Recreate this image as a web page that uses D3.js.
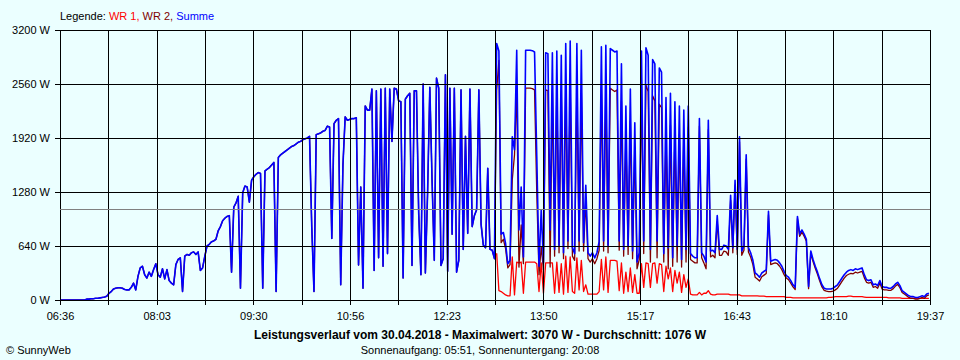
<!DOCTYPE html>
<html>
<head>
<meta charset="UTF-8">
<title>Leistungsverlauf 30.04.2018</title>
<script src="https://cdnjs.cloudflare.com/ajax/libs/d3/7.8.5/d3.min.js"></script>
<style>
body{margin:0;background:#ebffff;}
svg{display:block;}
text{font-family:"Liberation Sans",Arial,sans-serif;font-size:11px;fill:#000;}
.title{font-weight:bold;font-size:12px;}
.series{fill:none;stroke-width:1.3;stroke-linejoin:round;}
.series.sum{stroke-width:1.6;}
.grid line{stroke:#000;shape-rendering:crispEdges;}
.axis line{stroke:#000;shape-rendering:crispEdges;}
.grid path,.axis path{display:none;}
</style>
</head>
<body>
<div id="chart"></div>
<script>
// time frame of the day, samples every 2 minutes
var startTime="06:36", endTime="19:37", step=2;
var wr1Start="13:08"; // WR 1 only reports from here on
var yTicks=[0,640,1280,1920,2560,3200];
var xTickLabels=["06:36","08:03","09:30","10:56","12:23","13:50","15:17","16:43","18:10","19:37"];
var legendNames=["WR 1","WR 2","Summe"];
var average=1076;

// WR 2 (W), from 06:36
var wr2=[0,0,0,0,0,0,0,0,0,0,0,0,
10,10,15,15,20,20,25,30,35,45,
80,100,130,140,145,145,140,125,120,120,
150,200,120,280,380,400,300,260,330,280,
360,430,300,270,370,250,360,230,200,180,
420,480,500,100,520,540,530,560,570,540,
570,350,380,520,640,660,690,700,720,820,
870,940,970,990,1000,330,1100,1150,1230,140,
1270,1350,1340,1160,1420,1460,1490,1510,1500,140,
1530,1550,1570,1600,1630,100,1690,1720,1740,1760,
1780,1800,1820,1830,1850,1870,1880,1900,1910,1920,
1940,870,100,1960,1970,1980,2000,2010,2060,2050,
730,2090,2130,2150,180,1600,2170,2130,2140,2150,
2150,2160,415,1340,140,2300,2250,2250,2500,350,
2480,500,2500,400,2510,550,2500,1880,2510,2500,
2360,2350,260,2380,2420,2450,410,2480,2480,1030,
300,2560,320,1280,2520,1420,470,2630,2510,410,
490,2670,340,2510,780,2510,330,470,2490,600,
1940,790,2500,870,1000,1070,2490,900,650,620,
1560,600,590,490,
2485,2840,680,720,610,380,420,1425,1720,2510,
390,890,430,2510,2510,2510,2505,2490,1270,300,
630,360,2490,2480,390,2490,520,2500,560,2470,
490,2520,610,2560,520,470,2540,580,2490,580,
1180,490,450,490,430,490,590,2520,580,2510,
560,2510,2490,2470,2490,590,2360,520,1970,540,
2120,490,1800,370,480,2520,550,2550,2470,450,
2420,2360,500,2320,2280,450,2000,370,2070,400,
2000,450,1970,390,1950,450,2050,480,460,440,
440,2060,500,440,370,2020,510,530,500,930,
530,530,580,570,530,1180,560,1360,540,1875,
530,590,1670,570,510,420,270,250,225,275,
295,315,1010,420,430,440,430,400,360,300,
260,240,200,155,125,965,755,805,755,695,
135,555,455,375,305,225,155,115,105,100,
100,105,120,140,180,220,260,290,305,315,
310,330,320,330,340,265,210,200,210,150,
160,140,200,130,120,120,115,115,135,165,
185,145,90,70,50,30,20,20,10,10,
20,30,20,50,60];

// WR 1 (W), from 13:08
var wr1=[555,110,100,80,60,50,50,510,60,450,
440,450,80,450,450,450,450,450,430,100,
440,80,440,440,440,440,80,450,90,430,
70,520,90,510,100,80,500,120,470,100,
180,70,70,70,70,70,100,480,120,510,
90,470,470,470,460,110,440,80,330,100,
380,90,300,80,80,430,150,440,430,150,
430,440,200,430,420,100,400,250,380,100,
350,200,330,90,300,150,250,70,60,60,
60,90,60,80,80,110,70,60,60,70,
70,70,70,70,70,60,60,60,60,60,
50,50,50,50,50,50,50,50,45,45,
45,40,40,40,40,40,40,40,40,40,
30,30,30,25,25,25,25,25,25,25,
25,25,25,25,25,25,25,25,25,30,
30,35,40,40,40,40,40,40,45,45,
40,40,40,40,40,35,30,30,30,30,
30,30,30,30,30,30,25,25,25,25,
25,25,20,20,20,20,20,20,20,20,
20,20,20,20,20];

function toMin(s){var p=s.split(":");return (+p[0])*60+(+p[1]);}
var t0=toMin(startTime), t1=toMin(endTime), tw1=toMin(wr1Start);
var off=(tw1-t0)/step;

var s2=wr2.map(function(v,i){return {t:t0+i*step,v:v};});
var s1=wr1.map(function(v,i){return {t:tw1+i*step,v:v};});
var sum=wr2.map(function(v,i){var j=i-off; return {t:t0+i*step,v:v+(j>=0&&j<wr1.length?wr1[j]:0)};});

var width=960, height=360;
var svg=d3.select("#chart").append("svg").attr("width",width).attr("height",height);
svg.append("rect").attr("width",width).attr("height",height).attr("fill","#ebffff");

var x=d3.scaleLinear().domain([t0,t1]).range([60,930]);
var y=d3.scaleLinear().domain([0,3200]).range([300,30]);
var xGrid=d3.range(19).map(function(k){return t0+k*(t1-t0)/18;});

// outer ticks + labels
svg.append("g").attr("class","axis").attr("transform","translate(0,300)")
  .call(d3.axisBottom(x).tickValues(xGrid).tickSize(5).tickPadding(7)
  .tickFormat(function(d,k){return k%2?"":xTickLabels[k/2];}));
svg.append("g").attr("class","axis").attr("transform","translate(60,0)")
  .call(d3.axisLeft(y).tickValues(yTicks).tickSize(5).tickPadding(5)
  .tickFormat(function(d){return d+" W";}));
svg.selectAll(".axis text").attr("font-family",null).attr("font-size",null);

var line=d3.line().x(function(d){return x(d.t);}).y(function(d){return y(d.v);});
svg.append("path").datum(s1).attr("class","series").attr("stroke","#ff0000").attr("d",line);
svg.append("path").datum(s2).attr("class","series").attr("stroke","#800000").attr("d",line);
svg.append("path").datum(sum).attr("class","series sum").attr("stroke","#0000ff").attr("d",line);

// grid on top of the data
svg.append("g").attr("class","grid").attr("transform","translate(0,300)")
  .call(d3.axisBottom(x).tickValues(xGrid).tickSize(-270).tickFormat(""));
svg.append("g").attr("class","grid").attr("transform","translate(60,0)")
  .call(d3.axisLeft(y).tickValues(yTicks).tickSize(-870).tickFormat(""));

svg.append("line").attr("x1",x(t0)).attr("x2",x(t1)).attr("y1",y(average)).attr("y2",y(average))
  .attr("stroke","#808080").style("shape-rendering","crispEdges");

// legend
var colors=["#ff0000","#800000","#0000ff"];
var lg=svg.append("text").attr("x",60).attr("y",20);
lg.append("tspan").text("Legende: ");
legendNames.forEach(function(n,k){
  lg.append("tspan").attr("fill",colors[k]).text(n+(k<legendNames.length-1?", ":""));
});

svg.append("text").attr("class","title").attr("x",480).attr("y",339).attr("text-anchor","middle")
  .text("Leistungsverlauf vom 30.04.2018 - Maximalwert: 3070 W - Durchschnitt: "+average+" W");
svg.append("text").attr("x",480).attr("y",354).attr("text-anchor","middle")
  .text("Sonnenaufgang: 05:51, Sonnenuntergang: 20:08");
svg.append("text").attr("x",6).attr("y",354).text("\u00a9 SunnyWeb");
</script>
</body>
</html>
